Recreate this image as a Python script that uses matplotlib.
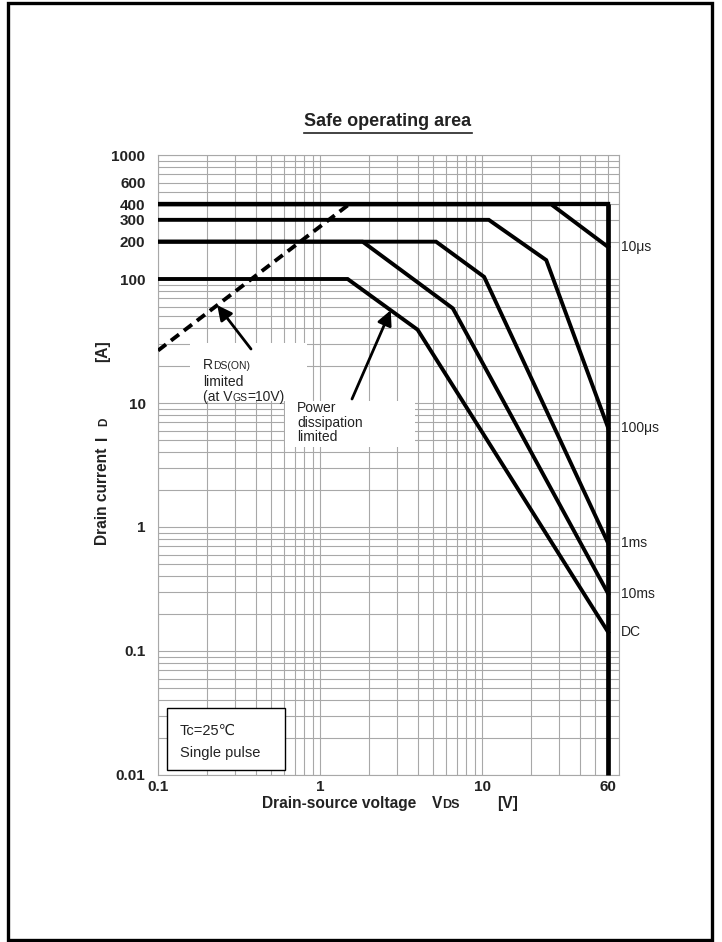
import matplotlib
matplotlib.use("Agg")
import matplotlib.pyplot as plt
from matplotlib.patches import Rectangle
from matplotlib.transforms import IdentityTransform
from matplotlib.ticker import FixedLocator, LogLocator, NullFormatter

plt.rcParams["font.family"] = ["Liberation Sans", "DejaVu Sans"]

# SOA boundaries, drain-source voltage [V] vs drain current [A]
v_10us = [0.1, 26.7, 60]
i_10us = [400, 400, 181]
v_100us = [0.1, 11.0, 24.9, 60]
i_100us = [300, 300, 142, 6.3]
v_1ms = [0.1, 5.2, 10.3, 60]
i_1ms = [200, 200, 104, 0.74]
v_10ms = [0.1, 1.83, 6.6, 60]
i_10ms = [200, 200, 58, 0.29]
v_dc = [0.1, 1.48, 4.0, 60]
i_dc = [100, 100, 39, 0.142]
v_vmax = [60, 60]
i_vmax = [400, 0.01]
v_rds = [0.1, 1.51]
i_rds = [26.5, 400]

curve_names = ["10μs", "100μs", "1ms", "10ms", "DC"]

x_ticks = [0.1, 1, 10, 60]
x_labels = ["0.1", "1", "10", "60"]
y_ticks = [0.01, 0.1, 1, 10, 100, 200, 300, 400, 600, 1000]
y_labels = ["0.01", "0.1", "1", "10", "100", "200", "300", "400", "600", "1000"]

W, H = 722, 942
fig = plt.figure(figsize=(W / 100, H / 100), dpi=100)
ax = fig.add_axes([158 / W, 1 - 775 / H, (619 - 158) / W, (775 - 155) / H])
pix = IdentityTransform()


def P(x, y):
    # pixel position measured from the top-left corner
    return x, H - y


ax.set_xscale("log")
ax.set_yscale("log")
ax.set_xlim(0.1, 70)
ax.set_ylim(0.01, 1000)

ax.xaxis.set_major_locator(FixedLocator(x_ticks))
ax.xaxis.set_minor_locator(LogLocator(subs=range(2, 10), numticks=20))
ax.xaxis.set_minor_formatter(NullFormatter())
ax.set_xticklabels(x_labels, fontweight="bold", fontsize=11, color="#222222")
ax.yaxis.set_major_locator(FixedLocator(y_ticks))
ax.yaxis.set_minor_locator(LogLocator(subs=range(2, 10), numticks=20))
ax.yaxis.set_minor_formatter(NullFormatter())
ax.set_yticklabels(y_labels, fontweight="bold", fontsize=11, color="#222222")
ax.tick_params(which="both", length=0)
ax.tick_params(axis="x", pad=3.5)
ax.tick_params(axis="y", pad=9)

ax.set_axisbelow(True)
ax.grid(which="both", color="#a8a8a8", lw=0.8)
for s in ax.spines.values():
    s.set_color("#a8a8a8")
    s.set_linewidth(0.8)

lw = 2.8
series = [(v_10us, i_10us), (v_100us, i_100us), (v_1ms, i_1ms),
          (v_10ms, i_10ms), (v_dc, i_dc)]
for (v, i), name in zip(series, curve_names):
    ax.plot(v, i, color="black", lw=lw, solid_joinstyle="miter", zorder=3)
    ax.annotate(name, xy=(v[-1], i[-1]), xytext=(13, 0), textcoords="offset pixels",
                va="center", ha="left", fontsize=10, color="#222222",
                annotation_clip=False)
ax.plot([0.1, 60], [400, 400], color="black", lw=lw + 0.3, zorder=3)
ax.plot(v_vmax, i_vmax, color="black", lw=lw + 0.6, zorder=3, clip_on=False,
        solid_capstyle="butt")
ax.plot(v_rds, i_rds, color="black", lw=lw, ls=(0, (2.6, 1.6)), zorder=3)

# white panels behind the callout texts
for x0, y0, x1, y1 in [(190, 343, 307, 401), (285, 401, 415, 447)]:
    ax.add_patch(Rectangle(P(x0, y1), x1 - x0, y1 - y0, transform=pix,
                           facecolor="white", edgecolor="none", zorder=1))

r = fig.canvas.get_renderer()


def chain(x, y, pieces, rotation=0, **kw):
    for s, size in pieces:
        t = fig.text(x, y, s, transform=pix, fontsize=size, rotation=rotation,
                     rotation_mode="anchor", ha="left", va="baseline", **kw)
        bb = t.get_window_extent(r)
        if rotation:
            y += bb.height
        else:
            x += bb.width


c = "#222222"
chain(*P(203, 369), [("R", 10), ("DS(ON)", 7.5)], color=c)
fig.text(*P(203, 386), "limited", transform=pix, fontsize=10, color=c)
chain(*P(203, 401), [("(at V", 10), ("GS", 7.5), ("=10V)", 10)], color=c)
for k, line in enumerate(["Power", "dissipation", "limited"]):
    fig.text(*P(297, 412 + 14.5 * k), line, transform=pix, fontsize=10,
             color=c, va="baseline")

arrow = dict(arrowstyle="-|>", color="black", lw=2, mutation_scale=22,
             shrinkA=0, shrinkB=0)
ax.annotate("", xy=(0.232, 61.5), xytext=P(251, 349), textcoords="figure pixels",
            arrowprops=arrow, zorder=4)
ax.annotate("", xy=(2.73, 56), xytext=P(352, 399), textcoords="figure pixels",
            arrowprops=arrow, zorder=4)

# condition box
ax.add_patch(Rectangle(P(167, 770), 118, 62, transform=pix, facecolor="white",
                       edgecolor="black", lw=1, zorder=4))
fig.text(*P(180, 735), "Tc=25℃", transform=pix, fontsize=10.5, color=c)
fig.text(*P(180, 757), "Single pulse", transform=pix, fontsize=10.5, color=c)

# title with underline
t = fig.text(*P(388, 122), "Safe operating area", transform=pix, fontsize=13,
             fontweight="bold", ha="center", va="center", color="#222222")
bb = t.get_window_extent(r)
fig.add_artist(plt.Line2D([bb.x0, bb.x1], [bb.y0 - 2, bb.y0 - 2], transform=pix,
                          color="#222222", lw=1.2))

# axis labels
fig.text(*P(262, 808), "Drain-source voltage", transform=pix, fontsize=11.2,
         fontweight="bold", color=c, va="baseline")
chain(*P(432, 808), [("V", 11.2), ("DS", 9)], fontweight="bold", color=c)
fig.text(*P(497, 808), "[V]", transform=pix, fontsize=11.2, fontweight="bold",
         color=c, va="baseline")

chain(*P(107, 545), [("Drain current", 11.2)], rotation=90, fontweight="bold", color=c)
chain(*P(107, 440), [("I", 11.2)], rotation=90, fontweight="bold", color=c)
chain(*P(107, 426), [("D", 8.5)], rotation=90, fontweight="bold", color=c)
chain(*P(107, 362), [("[A]", 11.2)], rotation=90, fontweight="bold", color=c)

# page frame
fig.add_artist(Rectangle((8 / W, 2 / H), (712 - 8) / W, (939 - 2) / H,
                         transform=fig.transFigure, fill=False, edgecolor="black",
                         lw=2.4))

fig.savefig("out.png", dpi=100)
